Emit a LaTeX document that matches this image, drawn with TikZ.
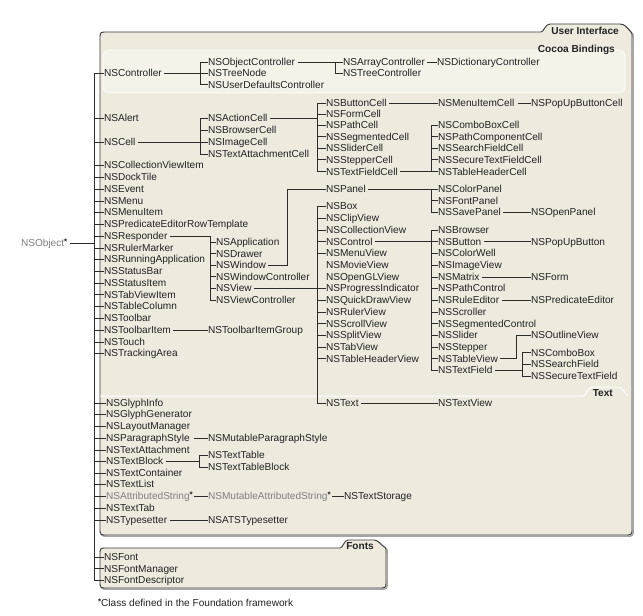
\documentclass[tikz,border=0pt]{standalone}
\usepackage{fontspec}
\setmainfont{Liberation Sans}
\definecolor{tc}{HTML}{222222}
\definecolor{lc}{HTML}{2E2C28}
\definecolor{gy}{HTML}{808080}
\definecolor{boxf}{HTML}{EEEADE}
\definecolor{cbf}{HTML}{F5F2EA}
\definecolor{bord}{HTML}{3A3A3A}
\newcommand{\fs}{\fontsize{10.1}{12}\selectfont}
\newcommand{\fsb}{\fontsize{10.1}{12}\selectfont\bfseries}
\newcommand{\fstar}{\textcolor{tc}{\raisebox{2.6pt}{\fontsize{8}{8}\selectfont\bfseries *}}}
\newcommand{\mkbranch}[5]{%
  \draw[ln] ([xshift=2pt]#1.east) -- (#1.east -| #2);
  \draw[ln] (#3.west -| #2) -- (#4.west -| #2);
  \foreach \c in {#5} {\draw[ln] (\c.west -| #2) -- (\c.west);}%
}
\begin{document}
\begin{tikzpicture}[x=1pt,y=-1pt,
  cls/.style={anchor=west, inner xsep=0.8pt, inner ysep=0pt, text height=7.2pt, text depth=0pt, font=\fs, text=tc},
  gcls/.style={cls, text=gy},
  ln/.style={draw=lc, line width=1pt, line cap=rect},
  ttl/.style={anchor=east, inner sep=0pt, font=\fsb, text=tc, text height=7.2pt, text depth=0pt},
  boxs/.style={fill=boxf, draw=bord, line width=0.9pt, preaction={draw=black!35, line width=1.4pt, transform canvas={shift={(1.2pt,-1.2pt)}}}}
]
\fill[white] (0,0) rectangle (643,616);
\useasboundingbox (0,0) rectangle (643,616);

% ---------- User Interface box ----------
\path[boxs] (100,300) -- (100,39) .. controls (100,32) .. (107,32) -- (541,32)
  .. controls (544,32) and (545,24) .. (550,24) -- (620,24)
  .. controls (625,24) and (627,28) .. (630,31) .. controls (632,33) .. (632,37)
  -- (632,528) .. controls (632,535) .. (625,535) -- (107,535)
  .. controls (100,535) .. (100,528) -- cycle;
% Cocoa Bindings sub-box
\fill[cbf, draw=white, line width=0.6pt, rounded corners=6pt] (103,50) rectangle (625,93);
% Text section divider
\draw[white, line width=1pt] (100,396) -- (583,396) .. controls (587,396) and (587,387) .. (592,387)
  -- (618,387) .. controls (622,387) and (624,392) .. (628,396);
% ---------- Fonts box ----------
\path[boxs] (100,570) -- (100,555) .. controls (100,548) .. (107,548) -- (340,548)
  .. controls (343,548) and (344,540) .. (348,540) -- (374,540)
  .. controls (378,540) and (380,544) .. (383,546) .. controls (386,548) .. (386,552)
  -- (386,581) .. controls (386,588) .. (379,588) -- (107,588)
  .. controls (100,588) .. (100,581) -- cycle;

% titles
\node[ttl] (tUI) at (619,31) {User Interface};
\node[ttl] (tCB) at (615,49) {Cocoa Bindings};
\node[ttl] (tTX) at (613,393) {Text};
\node[ttl] (tFN) at (374,546) {Fonts};

% ---------- nodes ----------
\node[gcls] (obj) at (20,243) {NSObject\fstar};

\node[cls] (ctl) at (103,73) {NSController};
\node[cls] (alert) at (103,118) {NSAlert};
\node[cls] (cell) at (103,142) {NSCell};
\node[cls] (cvi) at (103,165) {NSCollectionViewItem};
\node[cls] (dock) at (103,177) {NSDockTile};
\node[cls] (event) at (103,189) {NSEvent};
\node[cls] (menu) at (103,201) {NSMenu};
\node[cls] (mitem) at (103,212) {NSMenuItem};
\node[cls] (pert) at (103,224) {NSPredicateEditorRowTemplate};
\node[cls] (resp) at (103,236) {NSResponder};
\node[cls] (rmark) at (103,248) {NSRulerMarker};
\node[cls] (runapp) at (103,259) {NSRunningApplication};
\node[cls] (sbar) at (103,271) {NSStatusBar};
\node[cls] (sitem) at (103,283) {NSStatusItem};
\node[cls] (tvi) at (103,294.5) {NSTabViewItem};
\node[cls] (tcol) at (103,306) {NSTableColumn};
\node[cls] (tbar) at (103,318) {NSToolbar};
\node[cls] (titem) at (103,330) {NSToolbarItem};
\node[cls] (touch) at (103,342) {NSTouch};
\node[cls] (track) at (103,353) {NSTrackingArea};

\node[cls] (ginfo) at (105,403) {NSGlyphInfo};
\node[cls] (ggen) at (105,414) {NSGlyphGenerator};
\node[cls] (lman) at (105,426) {NSLayoutManager};
\node[cls] (pstyle) at (105,438) {NSParagraphStyle};
\node[cls] (tatt) at (105,450) {NSTextAttachment};
\node[cls] (tblock) at (105,461) {NSTextBlock};
\node[cls] (tcont) at (105,473) {NSTextContainer};
\node[cls] (tlist) at (105,484) {NSTextList};
\node[gcls] (astr) at (105,496) {NSAttributedString\fstar};
\node[cls] (ttab) at (105,508) {NSTextTab};
\node[cls] (tset) at (105,520) {NSTypesetter};

\node[cls] (font) at (103,557) {NSFont};
\node[cls] (fman) at (103,568.5) {NSFontManager};
\node[cls] (fdesc) at (103,580) {NSFontDescriptor};

% column 2
\node[cls] (objc) at (207,62) {NSObjectController};
\node[cls] (tnode) at (207,73) {NSTreeNode};
\node[cls] (udc) at (207,84.5) {NSUserDefaultsController};
\node[cls] (acell) at (207,118) {NSActionCell};
\node[cls] (bcell) at (207,130) {NSBrowserCell};
\node[cls] (icell) at (207,142) {NSImageCell};
\node[cls] (tacell) at (207,154) {NSTextAttachmentCell};
\node[cls] (app) at (215,242) {NSApplication};
\node[cls] (drawer) at (215,253.5) {NSDrawer};
\node[cls] (win) at (215,265) {NSWindow};
\node[cls] (winc) at (215,276.5) {NSWindowController};
\node[cls] (view) at (215,288) {NSView};
\node[cls] (viewc) at (215,300) {NSViewController};
\node[cls] (tigroup) at (207,330) {NSToolbarItemGroup};
\node[cls] (pmstyle) at (207,438) {NSMutableParagraphStyle};
\node[cls] (ttable) at (207,455) {NSTextTable};
\node[cls] (ttblock) at (207,467) {NSTextTableBlock};
\node[gcls] (mastr) at (207,496) {NSMutableAttributedString\fstar};
\node[cls] (atsts) at (207,520) {NSATSTypesetter};

% column 3
\node[cls] (arrc) at (342,62) {NSArrayController};
\node[cls] (treec) at (342,73) {NSTreeController};
\node[cls] (btncell) at (325,103) {NSButtonCell};
\node[cls] (formcell) at (325,114) {NSFormCell};
\node[cls] (pathcell) at (325,125) {NSPathCell};
\node[cls] (segcell) at (325,136.5) {NSSegmentedCell};
\node[cls] (slidercell) at (325,148) {NSSliderCell};
\node[cls] (steppercell) at (325,159.5) {NSStepperCell};
\node[cls] (tfcell) at (325,171.5) {NSTextFieldCell};
\node[cls] (panel) at (325,189) {NSPanel};
\node[cls] (box) at (325,206) {NSBox};
\node[cls] (clipv) at (325,218) {NSClipView};
\node[cls] (collv) at (325,230) {NSCollectionView};
\node[cls] (control) at (325,241.5) {NSControl};
\node[cls] (menuv) at (325,253) {NSMenuView};
\node[cls] (moviev) at (325,265) {NSMovieView};
\node[cls] (openglv) at (325,277) {NSOpenGLView};
\node[cls] (progress) at (325,288) {NSProgressIndicator};
\node[cls] (qdv) at (325,300) {NSQuickDrawView};
\node[cls] (rulerv) at (325,312) {NSRulerView};
\node[cls] (scrollv) at (325,323.5) {NSScrollView};
\node[cls] (splitv) at (325,335) {NSSplitView};
\node[cls] (tabv) at (325,347) {NSTabView};
\node[cls] (thv) at (325,358.5) {NSTableHeaderView};
\node[cls] (text) at (325,403) {NSText};
\node[cls] (tstor) at (343,496) {NSTextStorage};

% column 4
\node[cls] (dictc) at (436,62) {NSDictionaryController};
\node[cls] (micell) at (437,103) {NSMenuItemCell};
\node[cls] (cbcell) at (437,125) {NSComboBoxCell};
\node[cls] (pccell) at (437,136.5) {NSPathComponentCell};
\node[cls] (sfcell) at (437,148) {NSSearchFieldCell};
\node[cls] (stfcell) at (437,159.5) {NSSecureTextFieldCell};
\node[cls] (thcell) at (437,171.5) {NSTableHeaderCell};
\node[cls] (cpanel) at (437,189) {NSColorPanel};
\node[cls] (fpanel) at (437,200.5) {NSFontPanel};
\node[cls] (spanel) at (437,212) {NSSavePanel};
\node[cls] (browser) at (437,230) {NSBrowser};
\node[cls] (button) at (437,241.5) {NSButton};
\node[cls] (colorwell) at (437,253) {NSColorWell};
\node[cls] (imagev) at (437,265) {NSImageView};
\node[cls] (matrix) at (437,277) {NSMatrix};
\node[cls] (pathctl) at (437,288) {NSPathControl};
\node[cls] (ruleed) at (437,300) {NSRuleEditor};
\node[cls] (scroller) at (437,312) {NSScroller};
\node[cls] (segctl) at (437,323.5) {NSSegmentedControl};
\node[cls] (slider) at (437,335) {NSSlider};
\node[cls] (stepper) at (437,347) {NSStepper};
\node[cls] (tablev) at (437,358.5) {NSTableView};
\node[cls] (textfield) at (437,370) {NSTextField};
\node[cls] (textview) at (437,403) {NSTextView};

% column 5
\node[cls] (pucell) at (530,103) {NSPopUpButtonCell};
\node[cls] (opanel) at (530,212) {NSOpenPanel};
\node[cls] (popup) at (530,241.5) {NSPopUpButton};
\node[cls] (form) at (530,277) {NSForm};
\node[cls] (predEd) at (530,300) {NSPredicateEditor};
\node[cls] (outline) at (530,335) {NSOutlineView};
\node[cls] (combobox) at (530,352.5) {NSComboBox};
\node[cls] (searchf) at (530,364) {NSSearchField};
\node[cls] (securetf) at (530,376) {NSSecureTextField};

% footnote
\node[cls] (fn) at (97,603) {\fstar Class defined in the Foundation framework};

% ---------- bracket coordinates ----------
\coordinate (tr) at (94,0);
\coordinate (b1) at (200,0);
\coordinate (b2) at (335,0);
\coordinate (b3) at (317,0);
\coordinate (b4) at (431,0);
\coordinate (b5) at (210,0);
\coordinate (b6) at (287,0);
\coordinate (b7) at (516,0);
\coordinate (b8) at (522,0);
\coordinate (b9) at (199,0);

% ---------- trunk ----------
\draw[ln] ([xshift=2pt]obj.east) -- (obj.east -| tr);
\draw[ln] (ctl.west -| tr) -- (fdesc.west -| tr);
\foreach \n in {ctl,alert,cell,cvi,dock,event,menu,mitem,pert,resp,rmark,runapp,sbar,sitem,tvi,tcol,tbar,titem,touch,track,ginfo,ggen,lman,pstyle,tatt,tblock,tcont,tlist,astr,ttab,tset,font,fman,fdesc}
  {\draw[ln] (\n.west -| tr) -- (\n.west);}

% ---------- branches ----------
\mkbranch{ctl}{b1}{objc}{udc}{objc,tnode,udc}
\mkbranch{objc}{b2}{arrc}{treec}{arrc,treec}
\draw[ln] ([xshift=2pt]arrc.east) -- (dictc.west);

\mkbranch{cell}{b1}{acell}{tacell}{acell,bcell,icell,tacell}
\mkbranch{acell}{b3}{btncell}{tfcell}{btncell,formcell,pathcell,segcell,slidercell,steppercell,tfcell}
\draw[ln] ([xshift=2pt]btncell.east) -- (micell.west);
\draw[ln] ([xshift=3pt]micell.east) -- (pucell.west);
\mkbranch{tfcell}{b4}{cbcell}{thcell}{cbcell,pccell,sfcell,stfcell,thcell}

\mkbranch{resp}{b5}{resp}{viewc}{app,drawer,win,winc,view,viewc}
\draw[ln] ([xshift=2pt]win.east) -- (win.east -| b6) |- (panel.west);
\mkbranch{panel}{b4}{cpanel}{spanel}{cpanel,fpanel,spanel}
\draw[ln] ([xshift=2pt]spanel.east) -- (opanel.west);

\mkbranch{view}{b3}{box}{text}{box,clipv,collv,control,menuv,progress,qdv,rulerv,scrollv,splitv,tabv,thv,text}
\mkbranch{control}{b4}{browser}{textfield}{browser,button,colorwell,imagev,matrix,pathctl,ruleed,scroller,segctl,slider,stepper,tablev,textfield}
\draw[ln] ([xshift=2pt]button.east) -- (popup.west);
\draw[ln] ([xshift=2pt]matrix.east) -- (form.west);
\draw[ln] ([xshift=2pt]ruleed.east) -- (predEd.west);
\draw[ln] ([xshift=2pt]tablev.east) -- (tablev.east -| b7) |- (outline.west);
\mkbranch{textfield}{b8}{combobox}{securetf}{combobox,searchf,securetf}
\draw[ln] ([xshift=2pt]text.east) -- (textview.west);

\draw[ln] ([xshift=2pt]titem.east) -- (tigroup.west);
\draw[ln] ([xshift=4pt]pstyle.east) -- (pmstyle.west);
\mkbranch{tblock}{b9}{ttable}{ttblock}{ttable,ttblock}
\draw[ln] ([xshift=1pt]astr.east) -- (mastr.west);
\draw[ln] ([xshift=1pt]mastr.east) -- (tstor.west);
\draw[ln] ([xshift=2pt]tset.east) -- (atsts.west);
\end{tikzpicture}
\end{document}
